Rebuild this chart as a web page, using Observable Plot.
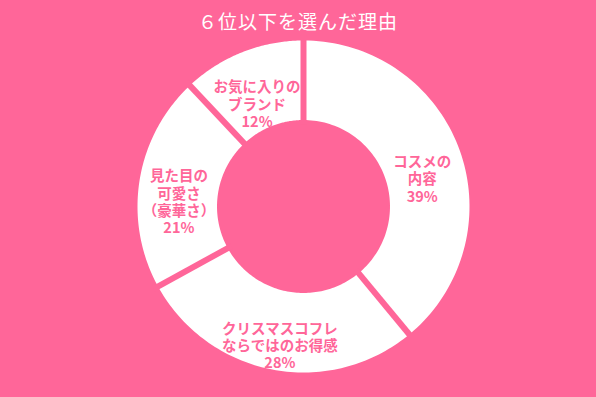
<!DOCTYPE html>
<html>
<head>
<meta charset="utf-8">
<script src="https://cdn.jsdelivr.net/npm/d3@7"></script>
<script src="https://cdn.jsdelivr.net/npm/@observablehq/plot@0.6"></script>
<style>
  html, body { margin: 0; padding: 0; background: #FF6699; }
  #title { height: 30px; line-height: 30px; padding-top: 6px; box-sizing: border-box; text-align: center; color: #fff;
    font-family: "Noto Sans CJK JP", sans-serif; font-size: 19px; letter-spacing: 1px; }
  #chart svg { display: block; }
</style>
</head>
<body>
<div id="title">６位以下を選んだ理由</div>
<div id="chart"></div>
<script>
const titleText = "６位以下を選んだ理由";
const categories = ["コスメの\n内容", "クリスマスコフレ\nならではのお得感", "見た目の\n可愛さ\n（豪華さ）", "お気に入りの\nブランド"];
const percents = [39, 28, 21, 12];

const pink = "#FF6699";
const innerRatio = 0.521;
const labelRatio = 0.76;

const pie = d3.pie().sort(null).startAngle(0).endAngle(2 * Math.PI)(percents);

// slice polygons in data space (radius 1 = outer edge)
const polys = [];
pie.forEach((p, i) => {
  const n = 80;
  const pts = [];
  for (let k = 0; k <= n; k++) {
    const a = p.startAngle + (p.endAngle - p.startAngle) * k / n;
    pts.push({slice: i, x: Math.sin(a), y: Math.cos(a)});
  }
  for (let k = n; k >= 0; k--) {
    const a = p.startAngle + (p.endAngle - p.startAngle) * k / n;
    pts.push({slice: i, x: innerRatio * Math.sin(a), y: innerRatio * Math.cos(a)});
  }
  pts.push({...pts[0]});
  polys.push(...pts);
});

const seps = pie.map(p => ({
  x1: innerRatio * 0.95 * Math.sin(p.startAngle), y1: innerRatio * 0.95 * Math.cos(p.startAngle),
  x2: 1.03 * Math.sin(p.startAngle), y2: 1.03 * Math.cos(p.startAngle)
}));

const labels = pie.map((p, i) => {
  const m = (p.startAngle + p.endAngle) / 2;
  return {x: labelRatio * Math.sin(m), y: labelRatio * Math.cos(m), text: categories[i] + "\n" + percents[i] + "%"};
});

const chart = Plot.plot({
  width: 596,
  height: 361,
  marginLeft: 137,
  marginRight: 127,
  marginTop: 10,
  marginBottom: 19,
  x: {domain: [-1, 1], axis: null},
  y: {domain: [-1, 1], axis: null},
  style: {background: pink, fontFamily: "'Noto Sans CJK JP', sans-serif"},
  marks: [
    Plot.line(polys, {x: "x", y: "y", z: "slice", fill: "white", stroke: "none", curve: "linear"}),
    Plot.link(seps, {x1: "x1", y1: "y1", x2: "x2", y2: "y2", stroke: pink, strokeWidth: 6}),
    Plot.text(labels, {x: "x", y: "y", text: "text", fill: pink, fontWeight: "bold", fontSize: 14.5, lineHeight: 1.2, dy: 15})
  ]
});
document.getElementById("chart").appendChild(chart);
</script>
</body>
</html>
